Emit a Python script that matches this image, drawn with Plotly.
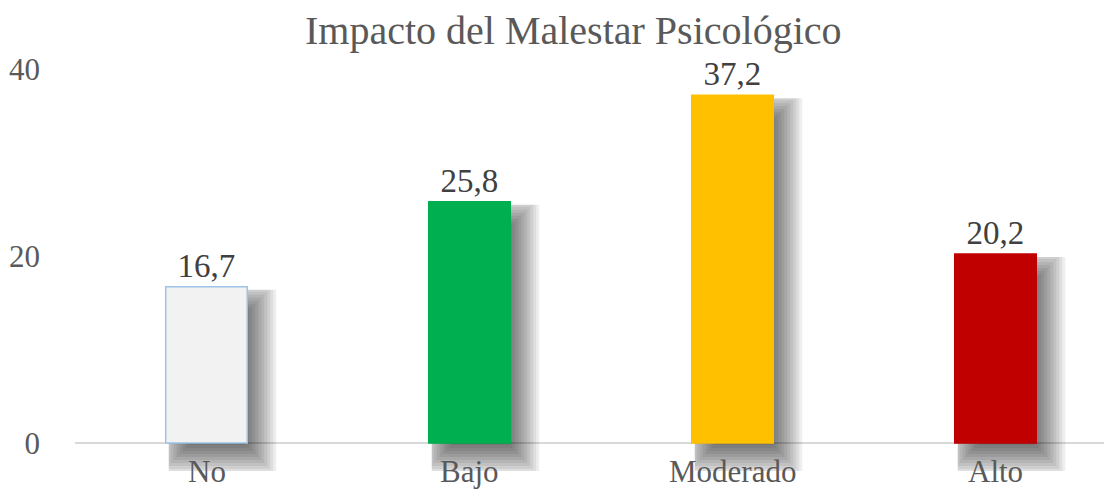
import plotly.graph_objects as go

categories = ["No", "Bajo", "Moderado", "Alto"]
values = [16.7, 25.8, 37.2, 20.2]
bar_colors = ["#F2F2F2", "#00B050", "#FFC000", "#C00000"]
line_colors = ["#9DC3E6", "#00B050", "#FFC000", "#C00000"]
y_ticks = [0, 20, 40]
title_text = "Impacto del Malestar Psicológico"

FONT = "Liberation Serif"
BAR_W = 0.31
PX = 1 / 263.0        # one horizontal pixel in category units
PY = 1 / 9.35         # one vertical pixel in value units

fig = go.Figure()

# soft drop shadow: nested translucent rectangles around a shifted copy of each bar,
# kept to the right of and below each bar
SHIFT_X, SHIFT_Y = 11, 14
for e in range(-12, 19, 3):
    top = [v - max(SHIFT_Y - e, 3) * PY for v in values]
    bot = -SHIFT_Y * PY - e * PY
    left_px = max(SHIFT_X - e, 3)
    right_px = SHIFT_X + e
    fig.add_trace(go.Bar(
        x=categories,
        y=[t - bot for t in top],
        base=[bot] * len(values),
        width=BAR_W + (right_px - left_px) * PX,
        offset=-BAR_W / 2 + left_px * PX,
        marker=dict(color="rgba(0,0,0,0.065)", line=dict(width=0)),
        hoverinfo="skip",
        showlegend=False,
    ))

fig.add_trace(go.Bar(
    x=categories,
    y=values,
    width=BAR_W,
    marker=dict(color=bar_colors, line=dict(color=line_colors, width=1.5)),
    texttemplate="%{y:.1f}",
    textposition="outside",
    textfont=dict(family=FONT, size=33, color="#404040"),
    cliponaxis=False,
    showlegend=False,
))

# category labels just under the baseline
for c in categories:
    fig.add_annotation(
        x=c, y=0, xref="x", yref="y",
        text=c, showarrow=False,
        yanchor="middle", yshift=-29,
        font=dict(family=FONT, size=31, color="#595959"),
    )

fig.update_layout(
    width=1104, height=481,
    barmode="overlay",
    separators=",.",
    paper_bgcolor="white",
    plot_bgcolor="white",
    margin=dict(l=67, r=0, t=61, b=18, autoexpand=False),
    title=dict(text=title_text, x=0.512, xanchor="center", y=1 - 22 / 481,
               yanchor="middle", yref="container",
               font=dict(family=FONT, size=40, color="#595959")),
    font=dict(family=FONT, color="#595959"),
)
fig.update_xaxes(
    range=[-0.5, 3.443],
    automargin=False,
    showticklabels=False,
    showgrid=False, showline=False, zeroline=False, ticks="",
)
fig.update_yaxes(
    range=[-3, 40],
    automargin=False,
    tickvals=y_ticks,
    showgrid=False, showline=False,
    zeroline=True, zerolinecolor="#D9D9D9", zerolinewidth=1.5,
    ticks="",
    tickfont=dict(family=FONT, size=31, color="#595959"),
    ticklabelstandoff=34,
)

fig.write_html("out.html")
